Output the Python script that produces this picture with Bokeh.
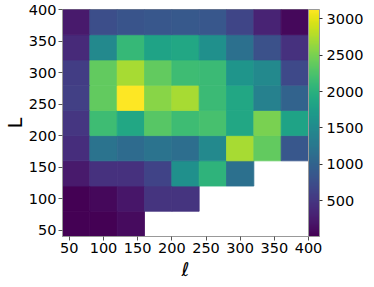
from bokeh.plotting import figure
from bokeh.models import (Range1d, FixedTicker, LinearColorMapper, ColorBar, ColumnDataSource,
                          Title, LinearAxis)
from bokeh.palettes import Viridis256
from bokeh.embed import file_html
from bokeh.resources import INLINE

# bin edges (ℓ along x, L along y)
ell_edges = [40, 80, 120, 160, 200, 240, 280, 320, 360, 400]
L_edges = [40, 80, 120, 160, 200, 240, 280, 320, 360, 400]

# counts per row, from L=360-400 (top) down to L=40-80 (bottom); None = empty
row_360 = [225, 755, 820, 850, 880, 850, 660, 320, 70]
row_320 = [380, 1475, 2100, 1820, 1880, 1570, 1160, 785, 445]
row_280 = [570, 2380, 2720, 2380, 2160, 2130, 1630, 1475, 695]
row_240 = [600, 2380, 3130, 2570, 2720, 2130, 1880, 1380, 1005]
row_200 = [505, 2160, 1880, 2320, 2160, 2225, 1880, 2505, 1820]
row_160 = [410, 1195, 1100, 1195, 1130, 1475, 2720, 2380, 850]
row_120 = [225, 445, 445, 630, 1570, 2035, 1160, None, None]
row_80 = [10, 70, 195, 475, 475, None, None, None, None]
row_40 = [5, 10, 100, None, None, None, None, None, None]

rows = [row_40, row_80, row_120, row_160, row_200, row_240, row_280, row_320, row_360]

x_ticks = [50, 100, 150, 200, 250, 300, 350, 400]
y_ticks = [50, 100, 150, 200, 250, 300, 350, 400]
cbar_ticks = [500, 1000, 1500, 2000, 2500, 3000]

left, right, bottom, top, val = [], [], [], [], []
for j, row in enumerate(rows):
    for i, v in enumerate(row):
        if v is None:
            continue
        left.append(ell_edges[i]); right.append(ell_edges[i + 1])
        bottom.append(L_edges[j]); top.append(L_edges[j + 1])
        val.append(v)

all_vals = [v for r in rows for v in r if v is not None]
mapper = LinearColorMapper(palette=Viridis256, low=min(all_vals), high=max(all_vals))

src = ColumnDataSource(dict(left=left, right=right, bottom=bottom, top=top, val=val))

p = figure(width=366, height=279, output_backend="svg", toolbar_location=None,
           x_range=Range1d(ell_edges[0], ell_edges[-1]), y_range=Range1d(L_edges[0], L_edges[-1]),
           min_border_top=9, min_border_left=0, min_border_right=0, min_border_bottom=0)
p.quad(left="left", right="right", bottom="bottom", top="top", source=src,
       fill_color={"field": "val", "transform": mapper},
       line_color={"field": "val", "transform": mapper}, line_width=0.8)

p.xgrid.visible = False
p.ygrid.visible = False
p.outline_line_color = "#999999"
p.background_fill_color = "white"
p.border_fill_color = "white"

font = "DejaVu Sans"
for ax, ticks in ((p.xaxis[0], x_ticks), (p.yaxis[0], y_ticks)):
    ax.ticker = FixedTicker(ticks=ticks)
    ax.major_label_text_font = font
    ax.major_label_text_font_size = "14.5px"
    ax.major_label_text_color = "black"
    ax.axis_line_color = "#999999"
    ax.major_tick_line_color = "#555555"
    ax.major_tick_out = 4
    ax.major_tick_in = 0
    ax.minor_tick_out = 0
    ax.minor_tick_in = 0
    ax.major_label_standoff = 2
    ax.axis_label_text_font = font
    ax.axis_label_text_font_style = "normal"
    ax.axis_label_text_font_size = "19px"
    ax.axis_label_text_color = "black"
    ax.axis_label_standoff = 0

p.yaxis.axis_label = "L"
p.yaxis.major_label_orientation = "horizontal"

# x-axis label as a title below the axis
p.add_layout(Title(text="ℓ", align="center", text_font=font, text_font_size="19px",
                   text_font_style="normal", text_color="black", standoff=0), "below")

# invisible spacer between the frame and the colour bar
spacer = LinearAxis(ticker=FixedTicker(ticks=[]), axis_line_alpha=0, major_tick_out=6,
                    major_tick_in=0, major_tick_line_alpha=0, minor_tick_out=0, minor_tick_in=0,
                    major_label_standoff=0)
p.add_layout(spacer, "right")

cb = ColorBar(color_mapper=mapper, ticker=FixedTicker(ticks=cbar_ticks), width=11,
              padding=0, margin=0, label_standoff=4,
              major_tick_in=0, major_tick_out=3, major_tick_line_color="#333333",
              bar_line_color="#999999", border_line_color=None,
              major_label_text_font=font, major_label_text_font_size="14.5px",
              major_label_text_color="black", background_fill_color="white")
p.add_layout(cb, "right")

open("out.html", "w").write(file_html(p, INLINE))
